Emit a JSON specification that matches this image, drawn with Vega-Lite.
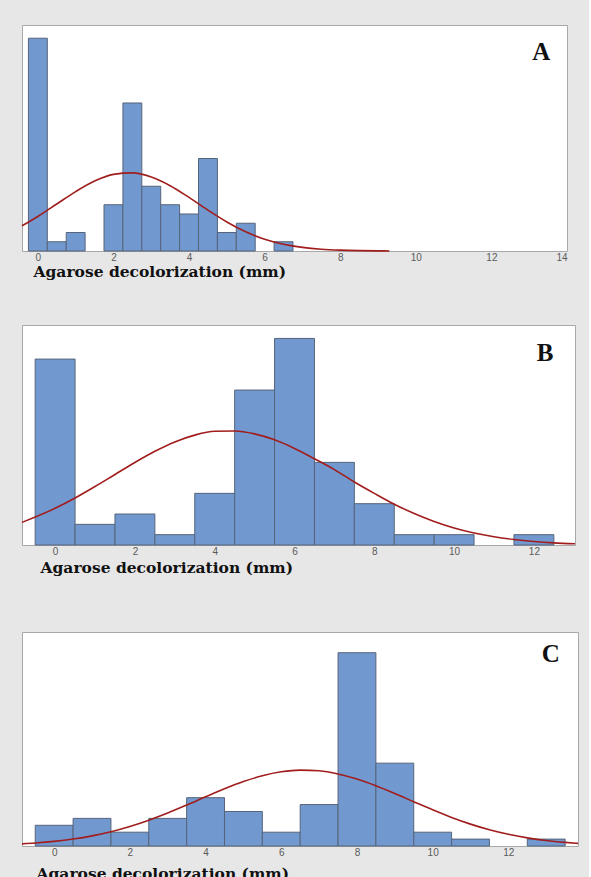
{
  "$schema": "https://vega.github.io/schema/vega-lite/v6.json",
  "background": "#e7e7e7",
  "padding": {"left": 18, "top": 24, "right": 7, "bottom": 0},
  "config": {
    "view": {"fill": "white", "stroke": "#a8a8a8", "strokeWidth": 1},
    "axisX": {
      "domain": false, "ticks": false, "grid": false,
      "labelFont": "Liberation Sans", "labelFontSize": 10, "labelColor": "#5a5a5a", "labelPadding": 1,
      "titleFont": "DejaVu Serif", "titleFontWeight": "bold", "titleFontSize": 15.5, "titleColor": "#111111",
      "titleAnchor": "start", "titleAlign": "left", "titleBaseline": "alphabetic"
    }
  },
  "datasets": {
    "barsA": [
      {"lo": -0.25, "hi": 0.25, "count": 23}, {"lo": 0.25, "hi": 0.75, "count": 1}, {"lo": 0.75, "hi": 1.25, "count": 2},
      {"lo": 1.75, "hi": 2.25, "count": 5}, {"lo": 2.25, "hi": 2.75, "count": 16}, {"lo": 2.75, "hi": 3.25, "count": 7},
      {"lo": 3.25, "hi": 3.75, "count": 5}, {"lo": 3.75, "hi": 4.25, "count": 4}, {"lo": 4.25, "hi": 4.75, "count": 10},
      {"lo": 4.75, "hi": 5.25, "count": 2}, {"lo": 5.25, "hi": 5.75, "count": 3}, {"lo": 6.25, "hi": 6.75, "count": 1}
    ],
    "curveA": [
      {"x": -0.42, "y": 2.72}, {"x": 0, "y": 3.73}, {"x": 0.5, "y": 5.08}, {"x": 1, "y": 6.42}, {"x": 1.5, "y": 7.56},
      {"x": 2, "y": 8.28}, {"x": 2.5, "y": 8.44}, {"x": 3, "y": 8.0}, {"x": 3.5, "y": 7.06}, {"x": 4, "y": 5.79},
      {"x": 4.5, "y": 4.42}, {"x": 5, "y": 3.14}, {"x": 5.5, "y": 2.07}, {"x": 6, "y": 1.27}, {"x": 6.5, "y": 0.73},
      {"x": 7, "y": 0.39}, {"x": 7.5, "y": 0.19}, {"x": 8, "y": 0.09}, {"x": 8.5, "y": 0.04}, {"x": 9, "y": 0.015}, {"x": 9.3, "y": 0.008}
    ],
    "barsB": [
      {"lo": -0.5, "hi": 0.5, "count": 18}, {"lo": 0.5, "hi": 1.5, "count": 2}, {"lo": 1.5, "hi": 2.5, "count": 3},
      {"lo": 2.5, "hi": 3.5, "count": 1}, {"lo": 3.5, "hi": 4.5, "count": 5}, {"lo": 4.5, "hi": 5.5, "count": 15},
      {"lo": 5.5, "hi": 6.5, "count": 20}, {"lo": 6.5, "hi": 7.5, "count": 8}, {"lo": 7.5, "hi": 8.5, "count": 4},
      {"lo": 8.5, "hi": 9.5, "count": 1}, {"lo": 9.5, "hi": 10.5, "count": 1}, {"lo": 11.5, "hi": 12.5, "count": 1}
    ],
    "curveB": [
      {"x": -0.83, "y": 2.19}, {"x": 0, "y": 3.55}, {"x": 0.5, "y": 4.55}, {"x": 1, "y": 5.66}, {"x": 1.5, "y": 6.83},
      {"x": 2, "y": 7.99}, {"x": 2.5, "y": 9.07}, {"x": 3, "y": 9.98}, {"x": 3.5, "y": 10.64}, {"x": 4, "y": 11.01},
      {"x": 4.5, "y": 11.04}, {"x": 5, "y": 10.76}, {"x": 5.5, "y": 10.18}, {"x": 6, "y": 9.35}, {"x": 6.5, "y": 8.35},
      {"x": 7, "y": 7.3}, {"x": 7.5, "y": 6.1}, {"x": 8, "y": 5.0}, {"x": 8.5, "y": 3.95}, {"x": 9, "y": 3.05},
      {"x": 9.5, "y": 2.28}, {"x": 10, "y": 1.65}, {"x": 10.5, "y": 1.16}, {"x": 11, "y": 0.8}, {"x": 11.5, "y": 0.53},
      {"x": 12, "y": 0.34}, {"x": 12.5, "y": 0.21}, {"x": 13.03, "y": 0.12}
    ],
    "barsC": [
      {"lo": -0.5, "hi": 0.5, "count": 3}, {"lo": 0.5, "hi": 1.5, "count": 4}, {"lo": 1.5, "hi": 2.5, "count": 2},
      {"lo": 2.5, "hi": 3.5, "count": 4}, {"lo": 3.5, "hi": 4.5, "count": 7}, {"lo": 4.5, "hi": 5.5, "count": 5},
      {"lo": 5.5, "hi": 6.5, "count": 2}, {"lo": 6.5, "hi": 7.5, "count": 6}, {"lo": 7.5, "hi": 8.5, "count": 28},
      {"lo": 8.5, "hi": 9.5, "count": 12}, {"lo": 9.5, "hi": 10.5, "count": 2}, {"lo": 10.5, "hi": 11.5, "count": 1},
      {"lo": 12.5, "hi": 13.5, "count": 1}
    ],
    "curveC": [
      {"x": -0.85, "y": 0.31}, {"x": -0.5, "y": 0.43}, {"x": 0, "y": 0.67}, {"x": 0.5, "y": 1.01}, {"x": 1, "y": 1.47},
      {"x": 1.5, "y": 2.07}, {"x": 2, "y": 2.83}, {"x": 2.5, "y": 3.74}, {"x": 3, "y": 4.79}, {"x": 3.5, "y": 5.93},
      {"x": 4, "y": 7.13}, {"x": 4.5, "y": 8.29}, {"x": 5, "y": 9.33}, {"x": 5.5, "y": 10.18}, {"x": 6, "y": 10.75},
      {"x": 6.5, "y": 10.99}, {"x": 7, "y": 10.89}, {"x": 7.5, "y": 10.44}, {"x": 8, "y": 9.7}, {"x": 8.5, "y": 8.72},
      {"x": 9, "y": 7.6}, {"x": 9.5, "y": 6.41}, {"x": 10, "y": 5.24}, {"x": 10.5, "y": 4.14}, {"x": 11, "y": 3.17},
      {"x": 11.5, "y": 2.35}, {"x": 12, "y": 1.69}, {"x": 12.5, "y": 1.18}, {"x": 13, "y": 0.79}, {"x": 13.5, "y": 0.52},
      {"x": 13.84, "y": 0.38}
    ]
  },
  "spacing": 44,
  "vconcat": [
    {
      "width": 545, "height": 226,
      "layer": [
        {
          "data": {"name": "barsA"},
          "mark": {"type": "rect", "fill": "#7199cf", "stroke": "#56647a", "strokeWidth": 1},
          "encoding": {
            "x": {"field": "lo", "type": "quantitative", "title": "Agarose decolorization (mm)",
                  "scale": {"domain": [-0.42, 14], "nice": false, "zero": false},
                  "axis": {"values": [0, 2, 4, 6, 8, 10, 12, 14], "titleX": 11, "titleY": 25}},
            "x2": {"field": "hi"},
            "y": {"field": "count", "type": "quantitative", "scale": {"domain": [0, 24.43], "nice": false}, "axis": null},
            "y2": {"datum": 0}
          }
        },
        {
          "data": {"name": "curveA"},
          "mark": {"type": "line", "color": "#a11d1d", "strokeWidth": 1.6, "interpolate": "monotone"},
          "encoding": {
            "x": {"field": "x", "type": "quantitative", "title": "Agarose decolorization (mm)"},
            "y": {"field": "y", "type": "quantitative", "axis": null}
          }
        },
        {
          "data": {"values": [{"panel": "A"}]},
          "mark": {"type": "text", "font": "Liberation Serif", "fontWeight": "bold", "fontSize": 25, "align": "center", "baseline": "middle", "color": "#111111"},
          "encoding": {
            "x": {"datum": 13.32, "type": "quantitative"},
            "y": {"datum": 21.55, "type": "quantitative"},
            "text": {"field": "panel"}
          }
        }
      ]
    },
    {
      "spacing": 55,
      "vconcat": [
        {
          "width": 553, "height": 220,
          "layer": [
            {
              "data": {"name": "barsB"},
              "mark": {"type": "rect", "fill": "#7199cf", "stroke": "#56647a", "strokeWidth": 1},
              "encoding": {
                "x": {"field": "lo", "type": "quantitative", "title": "Agarose decolorization (mm)",
                      "scale": {"domain": [-0.83, 13.03], "nice": false, "zero": false},
                      "axis": {"values": [0, 2, 4, 6, 8, 10, 12], "titleX": 18, "titleY": 27}},
                "x2": {"field": "hi"},
                "y": {"field": "count", "type": "quantitative", "scale": {"domain": [0, 21.3], "nice": false}, "axis": null},
                "y2": {"datum": 0}
              }
            },
            {
              "data": {"name": "curveB"},
              "mark": {"type": "line", "color": "#a11d1d", "strokeWidth": 1.6, "interpolate": "monotone"},
              "encoding": {
                "x": {"field": "x", "type": "quantitative", "title": "Agarose decolorization (mm)"},
                "y": {"field": "y", "type": "quantitative", "axis": null}
              }
            },
            {
              "data": {"values": [{"panel": "B"}]},
              "mark": {"type": "text", "font": "Liberation Serif", "fontWeight": "bold", "fontSize": 25, "align": "center", "baseline": "middle", "color": "#111111"},
              "encoding": {
                "x": {"datum": 12.28, "type": "quantitative"},
                "y": {"datum": 18.6, "type": "quantitative"},
                "text": {"field": "panel"}
              }
            }
          ]
        },
        {
          "width": 556, "height": 214,
          "layer": [
            {
              "data": {"name": "barsC"},
              "mark": {"type": "rect", "fill": "#7199cf", "stroke": "#56647a", "strokeWidth": 1},
              "encoding": {
                "x": {"field": "lo", "type": "quantitative", "title": "Agarose decolorization (mm)",
                      "scale": {"domain": [-0.85, 13.84], "nice": false, "zero": false},
                      "axis": {"values": [0, 2, 4, 6, 8, 10, 12], "titleX": 14, "titleY": 32}},
                "x2": {"field": "hi"},
                "y": {"field": "count", "type": "quantitative", "scale": {"domain": [0, 31], "nice": false}, "axis": null},
                "y2": {"datum": 0}
              }
            },
            {
              "data": {"name": "curveC"},
              "mark": {"type": "line", "color": "#a11d1d", "strokeWidth": 1.6, "interpolate": "monotone"},
              "encoding": {
                "x": {"field": "x", "type": "quantitative", "title": "Agarose decolorization (mm)"},
                "y": {"field": "y", "type": "quantitative", "axis": null}
              }
            },
            {
              "data": {"values": [{"panel": "C"}]},
              "mark": {"type": "text", "font": "Liberation Serif", "fontWeight": "bold", "fontSize": 25, "align": "center", "baseline": "middle", "color": "#111111"},
              "encoding": {
                "x": {"datum": 13.12, "type": "quantitative"},
                "y": {"datum": 27.8, "type": "quantitative"},
                "text": {"field": "panel"}
              }
            }
          ]
        }
      ]
    }
  ]
}
